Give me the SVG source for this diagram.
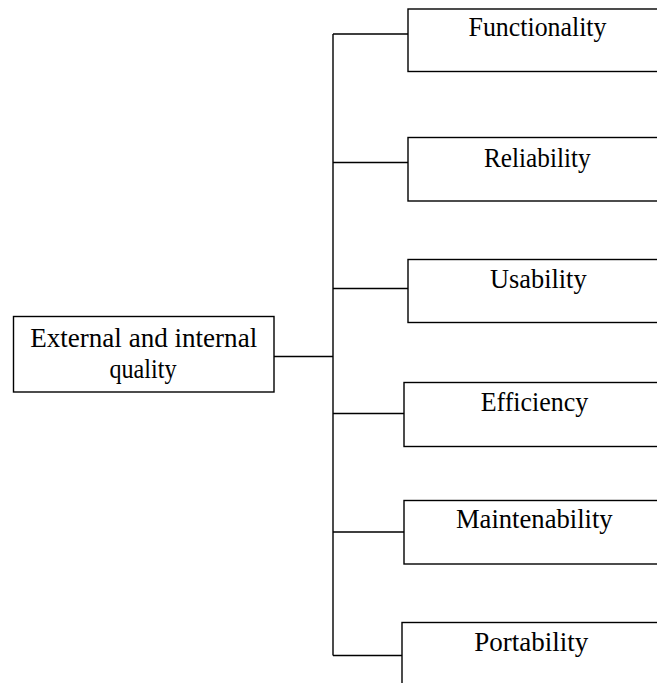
<svg xmlns="http://www.w3.org/2000/svg" width="657" height="683" viewBox="0 0 657 683">
<style>
.box{fill:#fff;stroke:#000;stroke-width:1.4}
.ln{fill:none;stroke:#000;stroke-width:1.4}
.t{font-family:"Liberation Serif","Times New Roman",serif;font-size:27px;fill:#000;text-anchor:middle}
</style>
<rect width="657" height="683" fill="#fff"/>
<g id="connectors">
<path class="ln" d="M333 34V655.5M274 356.5H333M333 34H408M333 162.5H408M333 288.5H408M333 413.5H404M333 532H404M333 655.5H402"/>
</g>
<g id="root">
<rect class="box" x="13.5" y="316.5" width="260.5" height="75.5"/>
<text class="t" x="143.7" y="347" textLength="227" lengthAdjust="spacingAndGlyphs">External and internal</text>
<text class="t" x="143" y="378" textLength="67" lengthAdjust="spacingAndGlyphs">quality</text>
</g>
<g id="functionality">
<rect class="box" x="408" y="9" width="270" height="62.5"/>
<text class="t" x="537.5" y="36" textLength="138" lengthAdjust="spacingAndGlyphs">Functionality</text>
</g>
<g id="reliability">
<rect class="box" x="408" y="137.5" width="270" height="63.5"/>
<text class="t" x="537.3" y="166.5" textLength="106.7" lengthAdjust="spacingAndGlyphs">Reliability</text>
</g>
<g id="usability">
<rect class="box" x="408" y="259.5" width="270" height="63"/>
<text class="t" x="538.3" y="288.3" textLength="96.7" lengthAdjust="spacingAndGlyphs">Usability</text>
</g>
<g id="efficiency">
<rect class="box" x="404" y="382.5" width="270" height="64"/>
<text class="t" x="534.5" y="410.7" textLength="107.6" lengthAdjust="spacingAndGlyphs">Efficiency</text>
</g>
<g id="maintenability">
<rect class="box" x="404" y="500.5" width="270" height="63.5"/>
<text class="t" x="534.3" y="528.3" textLength="156.7" lengthAdjust="spacingAndGlyphs">Maintenability</text>
</g>
<g id="portability">
<rect class="box" x="402" y="622.5" width="270" height="80"/>
<text class="t" x="531.3" y="650.7" textLength="114" lengthAdjust="spacingAndGlyphs">Portability</text>
</g>
</svg>
